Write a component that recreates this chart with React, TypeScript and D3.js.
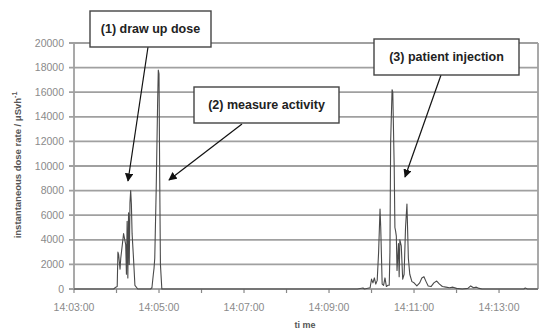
import React from "react";
import * as d3 from "d3";

const W = 541;
const H = 331;

// time (HH:MM:SS) and instantaneous dose rate (µSv/h)
const times = [
  "14:03:00","14:03:56","14:03:59","14:04:01","14:04:02","14:04:03","14:04:05","14:04:06","14:04:08","14:04:10",
  "14:04:11","14:04:13","14:04:14","14:04:15","14:04:16","14:04:17","14:04:18","14:04:19","14:04:20","14:04:21",
  "14:04:22","14:04:24","14:04:26","14:04:30",
  "14:04:48","14:04:50","14:04:52","14:04:53","14:04:54","14:04:56","14:04:58","14:04:59","14:05:00","14:05:01","14:05:02","14:05:04",
  "14:09:40","14:09:48","14:09:50","14:09:58","14:10:00","14:10:02","14:10:04","14:10:06","14:10:08","14:10:10",
  "14:10:12","14:10:13","14:10:15","14:10:17","14:10:19","14:10:21","14:10:23","14:10:25","14:10:26","14:10:27",
  "14:10:29","14:10:30","14:10:32","14:10:33","14:10:34","14:10:35","14:10:36","14:10:38","14:10:39","14:10:40",
  "14:10:42","14:10:44","14:10:46","14:10:48","14:10:50","14:10:52","14:10:54","14:10:57","14:11:00","14:11:04",
  "14:11:08","14:11:11","14:11:14","14:11:17","14:11:20","14:11:24","14:11:28","14:11:32","14:11:36","14:11:40",
  "14:11:45","14:11:50","14:11:55","14:12:00","14:12:08","14:12:16","14:12:20","14:12:24","14:12:28","14:12:32",
  "14:12:36","14:13:35","14:13:37","14:13:40","14:13:55"
];
const doseRate = [
  0,0,150,200,3000,2800,1600,2500,3500,4500,
  4200,3600,1200,5500,900,6200,2000,7000,8000,6900,
  4500,2500,300,0,
  0,100,1200,1700,2500,8000,15000,17800,17500,9000,2000,0,
  0,80,0,100,800,500,900,400,700,3000,
  6500,5000,400,300,900,200,300,300,3000,12000,
  16200,16000,10000,5000,4700,4300,1500,3700,1000,4000,
  3500,800,1200,5000,6900,2500,1200,600,500,250,
  500,900,1000,600,250,200,500,650,400,200,
  150,100,150,50,0,50,250,100,150,50,
  0,0,80,0,0
];

const yTicks = [0, 2000, 4000, 6000, 8000, 10000, 12000, 14000, 16000, 18000, 20000];
const xTickLabels = ["14:03:00", "14:05:00", "14:07:00", "14:09:00", "14:11:00", "14:13:00"];
const xAllTicks = ["14:03:00","14:04:00","14:05:00","14:06:00","14:07:00","14:08:00","14:09:00","14:10:00","14:11:00","14:12:00","14:13:00"];

const annotations = [
  { label: "(1) draw up dose", box: [90, 11, 211, 47], from: [148, 47], to: [128, 181] },
  { label: "(2) measure activity", box: [194, 87, 339, 123], from: [242, 124], to: [169, 180] },
  { label: "(3) patient injection", box: [374, 39, 519, 75], from: [441, 75], to: [405, 177] },
];

const parse = d3.timeParse("%H:%M:%S");

export default function App() {
  const left = 74, right = 538, top = 43, bottom = 289;
  const t0 = parse("14:03:00")!;
  const t1 = new Date(t0.getTime() + 655 * 1000);
  const x = d3.scaleTime().domain([t0, t1]).range([left, right]);
  const y = d3.scaleLinear().domain([0, 20000]).range([bottom, top]);
  const data = times.map((t, i) => ({ t: parse(t)!, v: doseRate[i] })).filter(d => d.t <= t1);
  const line = d3.line<{ t: Date; v: number }>().x(d => x(d.t)).y(d => y(d.v));
  const grid = "#a0a0a0";
  const font = "'Liberation Sans', Arial, sans-serif";

  return (
    <svg width={W} height={H} style={{ position: "absolute", left: 0, top: 0, background: "#fff" }}>
      <defs>
        <marker id="ah" viewBox="0 0 10 10" refX="9" refY="5" markerWidth="7" markerHeight="7" orient="auto">
          <path d="M0,0 L10,5 L0,10 z" fill="#111" />
        </marker>
      </defs>
      {yTicks.map(v => (
        <g key={v}>
          <line x1={left - 5} x2={right} y1={y(v)} y2={y(v)} stroke={grid} strokeWidth={1.8} />
          <text x={left - 10} y={y(v)} dy="0.35em" textAnchor="end" fontFamily={font} fontSize={10.5} fill="#8a8a8a">
            {v}
          </text>
        </g>
      ))}
      <line x1={left} x2={left} y1={top} y2={bottom} stroke={grid} strokeWidth={1.8} />
      <line x1={right} x2={right} y1={top} y2={bottom} stroke={grid} strokeWidth={1.8} />
      {xAllTicks.map(t => (
        <line key={t} x1={x(parse(t)!)} x2={x(parse(t)!)} y1={bottom} y2={bottom + 4} stroke="#888" strokeWidth={1.2} />
      ))}
      {xTickLabels.map(t => (
        <text key={t} x={x(parse(t)!)} y={307} dy="0.35em" textAnchor="middle" fontFamily={font} fontSize={10.5} fill="#8a8a8a">
          {t}
        </text>
      ))}
      <path d={line(data) ?? ""} fill="none" stroke="#4a4a4a" strokeWidth={1.1} strokeLinejoin="round" />
      <text transform="translate(21,165) rotate(-90)" textAnchor="middle" fontFamily={font} fontSize={9.5} fontWeight="bold" fill="#555">
        instantaneous dose rate / μSvh<tspan dy="-4" fontSize={7}>-1</tspan>
      </text>
      <text x={305} y={328} textAnchor="middle" fontFamily={font} fontSize={9} fontWeight="bold" fill="#555">
        ti me
      </text>
      {annotations.map(a => (
        <g key={a.label}>
          <line x1={a.from[0]} y1={a.from[1]} x2={a.to[0]} y2={a.to[1]} stroke="#111" strokeWidth={1.2} markerEnd="url(#ah)" />
          <rect x={a.box[0]} y={a.box[1]} width={a.box[2] - a.box[0]} height={a.box[3] - a.box[1]} fill="#fff" stroke="#444" strokeWidth={1.4} />
          <text x={(a.box[0] + a.box[2]) / 2} y={(a.box[1] + a.box[3]) / 2} dy="0.35em" textAnchor="middle" fontFamily={font} fontSize={12.5} fontWeight="bold" fill="#222">
            {a.label}
          </text>
        </g>
      ))}
    </svg>
  );
}
